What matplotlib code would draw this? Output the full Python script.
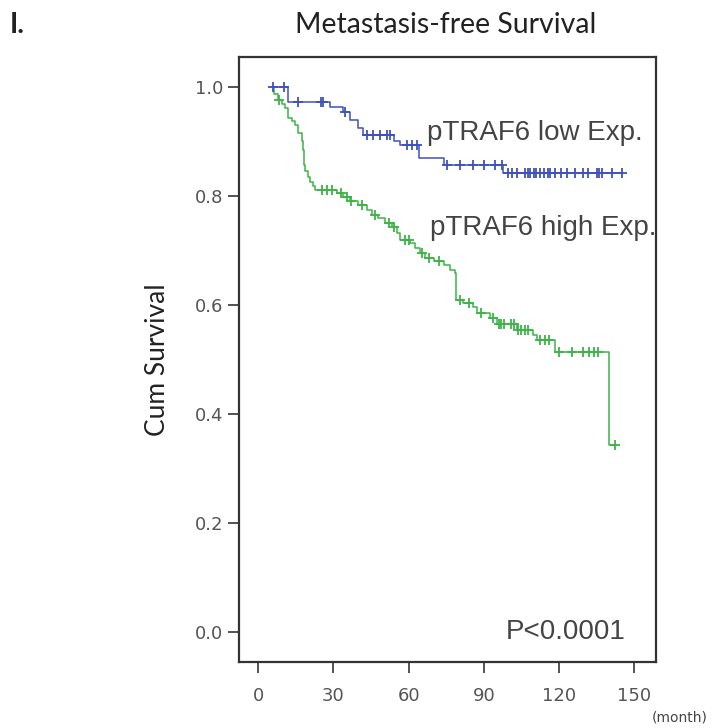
import numpy as np
import matplotlib.pyplot as plt

# Kaplan-Meier curves (time in months)
low_start, low_end = 5.5, 145.0
low_event_t = [12.0, 28.7, 34.0, 36.7, 40.0, 42.0, 54.0, 56.6, 64.0, 74.0, 97.8]
low_event_s = [0.973, 0.964, 0.955, 0.939, 0.924, 0.912, 0.900, 0.894, 0.869, 0.857, 0.842]
low_censor_t = [6.0, 10.5, 15.7, 25.0, 26.0, 34.7, 43.4, 46.0, 48.7, 51.3, 52.6,
                59.3, 61.3, 63.3, 75.3, 80.6, 85.9, 89.9, 94.5, 97.2, 99.5,
                101.2, 103.2, 106.5, 107.5, 108.5, 110.0, 111.0, 112.5, 114.0,
                115.5, 116.5, 118.5, 121.0, 123.0, 126.4, 129.6, 131.6, 135.0,
                136.0, 137.0, 141.0, 145.0]

high_start, high_end = 5.5, 142.5
high_event_t = [6.5, 8.1, 9.5, 10.8, 12.1, 13.5, 14.8, 16.0, 17.4, 17.8, 18.1,
                18.4, 18.7, 19.8, 20.7, 21.7, 22.7, 31.4, 34.0, 36.7, 40.0,
                43.4, 45.5, 48.0, 50.5, 53.3, 55.3, 56.6, 60.6, 62.5, 64.6,
                66.6, 70.0, 74.0, 76.6, 78.6, 79.0, 81.9, 85.9, 87.2, 92.5,
                95.2, 103.2, 109.8, 111.2, 118.5, 140.0]
high_event_s = [0.988, 0.976, 0.968, 0.961, 0.943, 0.937, 0.930, 0.915, 0.900,
                0.885, 0.869, 0.857, 0.845, 0.835, 0.826, 0.818, 0.811, 0.805,
                0.799, 0.790, 0.783, 0.774, 0.766, 0.759, 0.751, 0.744, 0.732,
                0.719, 0.713, 0.704, 0.695, 0.686, 0.680, 0.673, 0.664, 0.658,
                0.609, 0.603, 0.597, 0.585, 0.576, 0.566, 0.554, 0.545, 0.536,
                0.514, 0.343]
high_censor_t = [8.5, 25.5, 27.4, 29.4, 33.0, 35.5, 37.0, 41.5, 46.5, 52.0, 54.0,
                 58.5, 60.0, 65.5, 68.0, 72.0, 80.5, 84.0, 89.0, 93.5, 96.0,
                 97.0, 98.0, 101.0, 102.0, 103.8, 105.0, 106.5, 107.5, 112.5,
                 114.5, 116.0, 120.0, 125.0, 129.5, 132.0, 134.0, 135.5, 142.5]

x_ticks = [0, 30, 60, 90, 120, 150]
y_ticks = [0.0, 0.2, 0.4, 0.6, 0.8, 1.0]

low_color = "#3f51be"
high_color = "#3cb446"


def km_curve(ax, start, end, event_t, event_s, censor_t, color):
    t = np.array([start] + event_t + [end])
    s = np.array([1.0] + event_s + [event_s[-1]])
    ax.step(t, s, where="post", color=color, lw=1.1, zorder=3)
    # censor marks sit on the step function
    idx = np.searchsorted(np.array(event_t), np.array(censor_t), side="right")
    cs = np.array([1.0] + event_s)[idx]
    ax.plot(censor_t, cs, ls="none", marker="+", ms=7, mew=1.3,
            color=color, zorder=4)


fig = plt.figure(figsize=(7.18, 7.28), dpi=100)
ax = fig.add_axes([0.333, 0.0907, 0.581, 0.831])

km_curve(ax, low_start, low_end, low_event_t, low_event_s, low_censor_t, low_color)
km_curve(ax, high_start, high_end, high_event_t, high_event_s, high_censor_t, high_color)

ax.set_xlim(-7.6, 158.8)
ax.set_ylim(-0.055, 1.055)
ax.set_xticks(x_ticks)
ax.set_yticks(y_ticks)
ax.set_yticklabels([f"{v:.1f}" for v in y_ticks])

for sp in ax.spines.values():
    sp.set_color("#333333")
    sp.set_linewidth(1.6)
ax.tick_params(direction="out", length=8, width=1.3, color="#444444",
               labelcolor="#555555", labelsize=13)
ax.tick_params(axis="x", pad=10)

txt = dict(fontsize=20, color="#444444", family="Liberation Sans")
ax.text(67.4, 0.916, "pTRAF6 low Exp.", va="center", **txt)
ax.text(68.6, 0.741, "pTRAF6 high Exp.", va="center", clip_on=True, **txt)
ax.text(98.9, 0.0, "P<0.0001", va="center", **txt)

ax.set_ylabel("Cum Survival", fontsize=19, family="Lato", color="#222222",
              labelpad=18)
fig.text(0.621, 0.966, "Metastasis-free Survival", ha="center", va="center",
         fontsize=20.5, family="Lato", color="#222222")
fig.text(0.014, 0.966, "I.", ha="left", va="center", fontsize=20,
         family="Lato", fontweight="bold", color="#222222")
fig.text(0.908, 0.014, "(month)", ha="left", va="center", fontsize=10,
         color="#444444")

fig.savefig("out.png", dpi=100)
